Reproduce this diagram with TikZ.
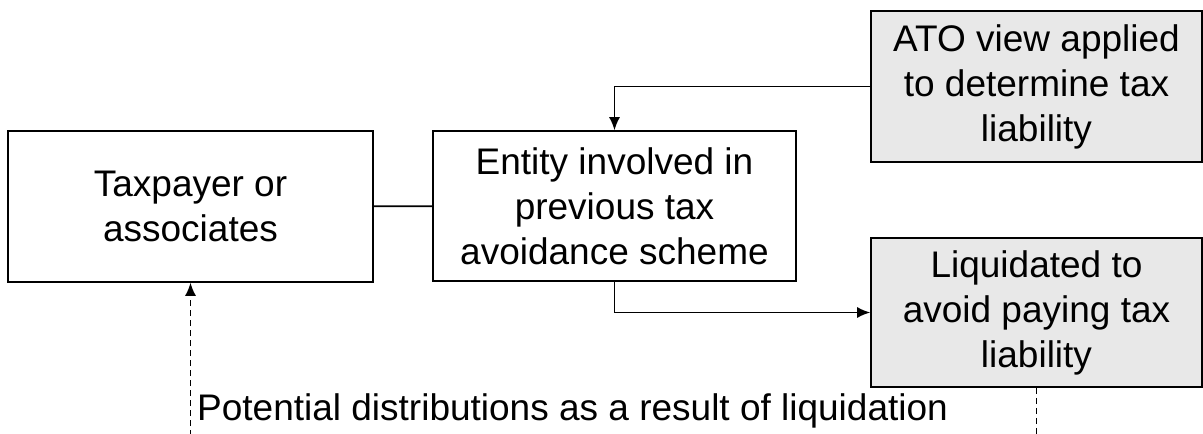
\documentclass[tikz,border=0pt]{standalone}
\usepackage{fontspec}
\setmainfont{Liberation Sans}
\usepackage{tikz}
\usetikzlibrary{arrows.meta, positioning, calc}

\definecolor{boxgray}{HTML}{E8E8E8}

\begin{document}
\begin{tikzpicture}[x=1pt, y=-1pt,
                every node/.style={font=\fontsize{37}{45}\selectfont},
                plainbox/.style={rectangle, draw, line width=1.6pt, align=center, inner sep=0pt},
                greybox/.style={plainbox, fill=boxgray},
                link/.style={line width=1.6pt},
                flow/.style={link, -{Latex[length=13pt, width=11pt]}},
                dist/.style={link, dash pattern=on 6pt off 4pt}]
                \useasboundingbox (0,0) rectangle (1203,434);

                \node[plainbox, minimum width=365pt, minimum height=151pt] (tax) at (190.5,206.5) {Taxpayer or\\associates};
                \node[plainbox, minimum width=363pt, minimum height=150pt] (ent) at (614.5,206) {Entity involved in\\previous tax\\avoidance scheme};
                \node[greybox, minimum width=331pt, minimum height=151pt] (ato) at (1036.5,86.5) {ATO view applied\\to determine tax\\liability};
                \node[greybox, minimum width=331pt, minimum height=149pt] (liq) at (1036.5,312.5) {Liquidated to\\avoid paying tax\\liability};
                \node[inner sep=0pt, anchor=base west] (potential) at (197,420) {Potential distributions as a result of liquidation};

                \coordinate (liqend) at (1036.5,436);
                \coordinate (taxend) at (190.5,436);

                \draw[link] (tax) -- (ent);
                \draw[flow] (ato.west) -| (ent.north);
                \draw[flow] (ent.south) |- (liq.west);
                \draw[dist] (liq.south) -- (liqend);
                \draw[dist, -{Latex[length=13pt, width=11pt]}] (taxend) -- (tax.south);
            \end{tikzpicture}
\end{document}
